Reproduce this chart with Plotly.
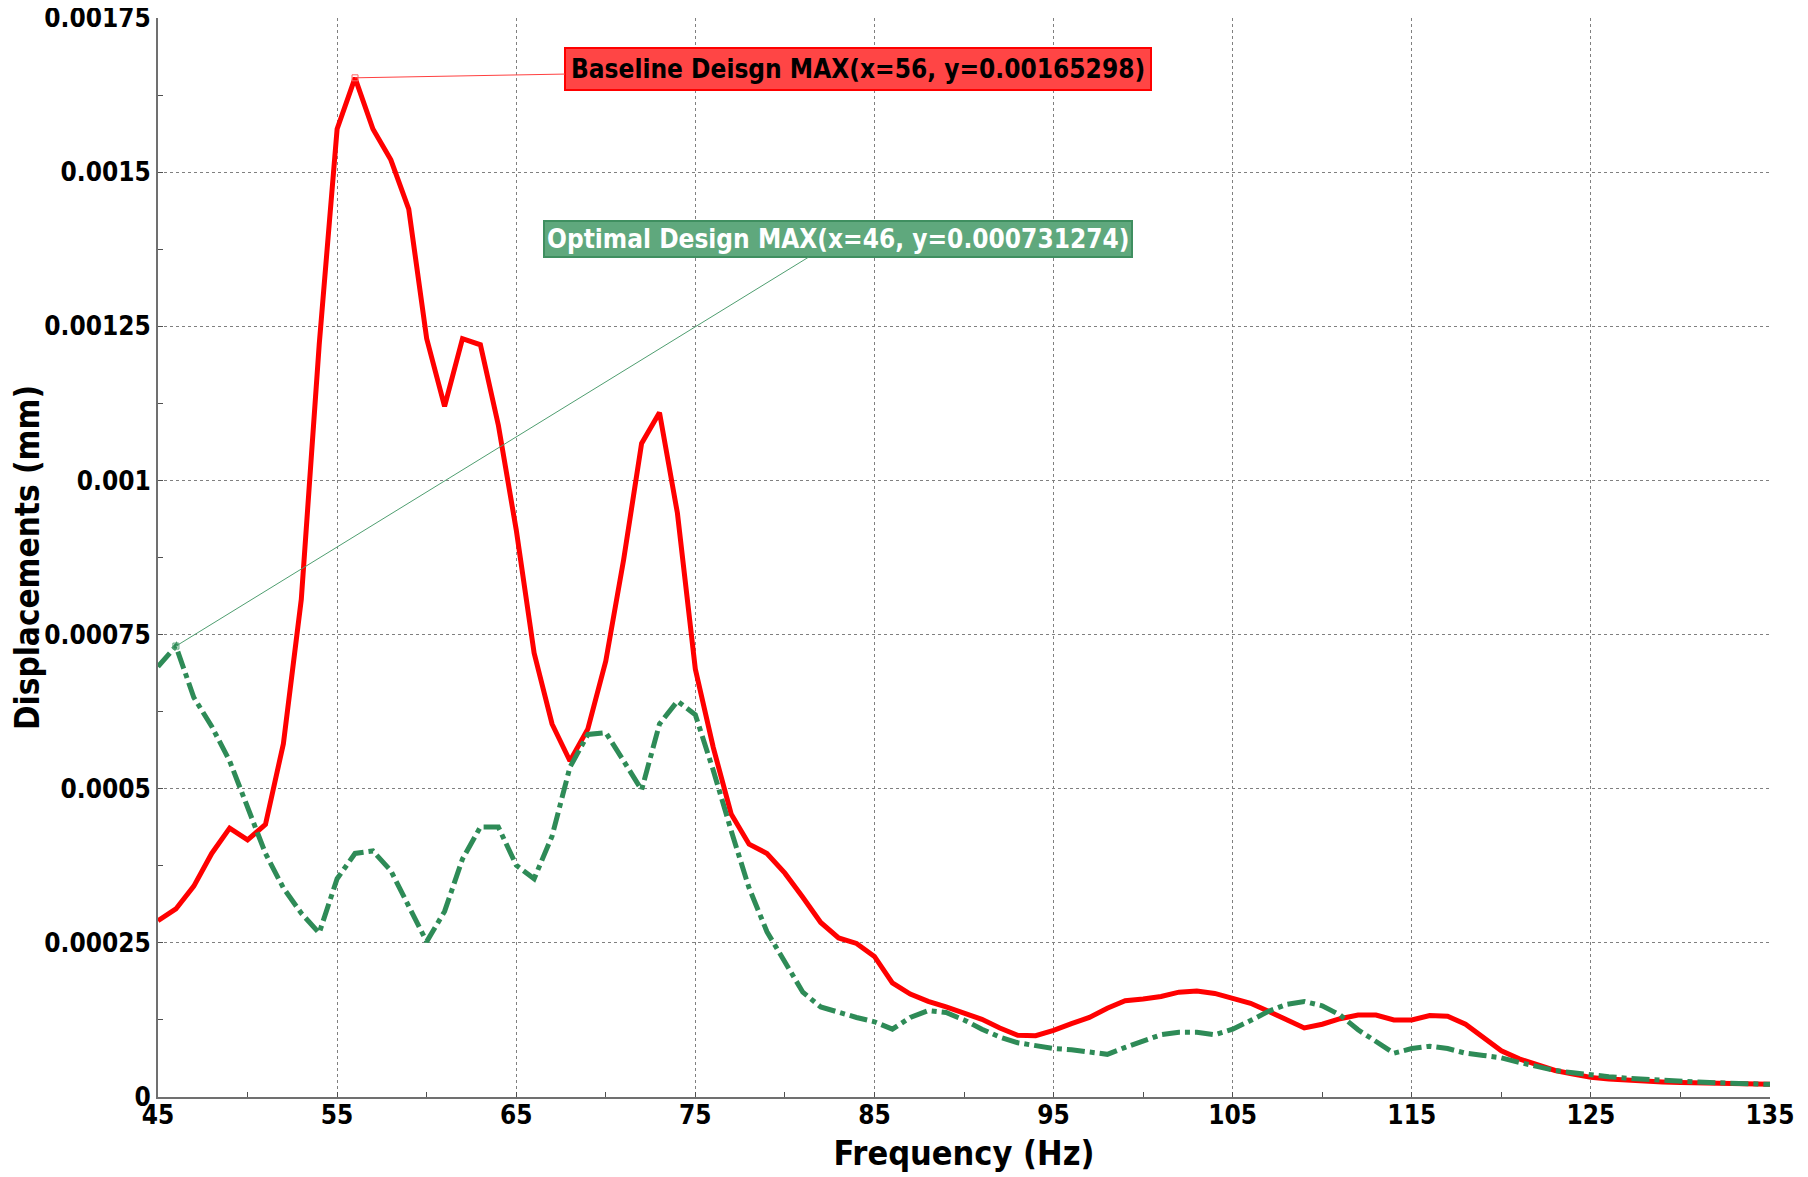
import plotly.graph_objects as go

# ---------------- data ----------------
freq = [45, 46, 47, 48, 49, 50, 51, 52, 53, 54, 55, 56, 57, 58, 59, 60, 61, 62, 63, 64,
        65, 66, 67, 68, 69, 70, 71, 72, 73, 74, 75, 76, 77, 78, 79, 80, 81, 82, 83, 84,
        85, 86, 87, 88, 89, 90, 91, 92, 93, 94, 95, 96, 97, 98, 99, 100, 101, 102, 103, 104,
        105, 106, 107, 108, 109, 110, 111, 112, 113, 114, 115, 116, 117, 118, 119, 120, 121, 122, 123, 124,
        125, 126, 127, 128, 129, 130, 131, 132, 133, 134, 135]

baseline = [0.000286, 0.000305, 0.000342, 0.000395, 0.000436, 0.000417, 0.000442, 0.000573, 0.000807, 0.00122,
            0.00157, 0.00165298, 0.00157, 0.00152, 0.00144, 0.00123, 0.00112, 0.00123, 0.00122, 0.00109,
            0.00092, 0.00072, 0.000605, 0.000545, 0.000597, 0.000707, 0.000872, 0.00106, 0.00111, 0.000947,
            0.000694, 0.000567, 0.000459, 0.00041, 0.000395, 0.000363, 0.000324, 0.000283, 0.000258, 0.000249,
            0.000228, 0.000185, 0.000167, 0.000155, 0.000146, 0.000137, 0.000126, 0.000112, 0.0001, 0.0000995,
            0.000108, 0.000119, 0.000129, 0.000144, 0.000156, 0.000159, 0.000163, 0.00017, 0.000172, 0.000168,
            0.000161, 0.000152, 0.000139, 0.000125, 0.000112, 0.000118, 0.000127, 0.000133, 0.000133, 0.000125,
            0.000125, 0.000132, 0.000131, 0.000118, 0.0000973, 0.0000749, 0.0000618, 0.0000524, 0.000043, 0.0000374,
            0.0000318, 0.000029, 0.000027, 0.0000255, 0.0000245, 0.0000235, 0.0000228, 0.0000222, 0.0000216, 0.000021,
            0.0000205]

optimal = [0.000698, 0.000731274, 0.000648, 0.000601, 0.000545, 0.00047, 0.000395, 0.000339, 0.000298, 0.000266,
           0.000354, 0.000395, 0.000399, 0.000367, 0.000311, 0.000252, 0.000301, 0.000386, 0.000438, 0.000438,
           0.000376, 0.000354, 0.000423, 0.000535, 0.000588, 0.000591, 0.000545, 0.000498, 0.000605, 0.000642,
           0.00062, 0.00053, 0.000432, 0.000339, 0.000268, 0.000217, 0.00017, 0.000146, 0.000137, 0.000129,
           0.000122, 0.00011, 0.000129, 0.00014, 0.000137, 0.000125, 0.00011, 0.0000973, 0.000088, 0.0000824,
           0.0000786, 0.0000767, 0.000073, 0.0000692, 0.0000805, 0.0000917, 0.000101, 0.000105, 0.000105, 0.000101,
           0.00011, 0.000124, 0.000139, 0.00015, 0.000155, 0.000148, 0.000133, 0.000109, 0.0000898, 0.0000711,
           0.0000786, 0.0000824, 0.0000786, 0.0000711, 0.0000674, 0.0000636, 0.0000561, 0.0000487, 0.000043, 0.0000393,
           0.0000356, 0.000033, 0.0000305, 0.0000285, 0.0000268, 0.0000255, 0.0000243, 0.0000232, 0.0000222, 0.0000213,
           0.0000205]

x_ticks = [45, 55, 65, 75, 85, 95, 105, 115, 125, 135]
y_ticks = [0, 0.00025, 0.0005, 0.00075, 0.001, 0.00125, 0.0015, 0.00175]
y_tick_labels = ["0", "0.00025", "0.0005", "0.00075", "0.001", "0.00125", "0.0015", "0.00175"]

# ---------------- styling ----------------
FONT = "DejaVu Sans Condensed, DejaVu Sans, sans-serif"
RED = "#ff0000"
GREEN = "#2e8b57"

fig = go.Figure()
fig.add_trace(go.Scatter(x=freq, y=baseline, mode="lines", name="Baseline Design",
                         line=dict(color=RED, width=5), cliponaxis=False))
fig.add_trace(go.Scatter(x=freq, y=optimal, mode="lines", name="Optimal Design",
                         line=dict(color=GREEN, width=5, dash="18px,5px,5px,5px")))

# max markers
ib = max(range(len(baseline)), key=lambda i: baseline[i])
io = max(range(len(optimal)), key=lambda i: optimal[i])
fig.add_trace(go.Scatter(x=[freq[ib]], y=[baseline[ib]], mode="markers", showlegend=False,
                         marker=dict(symbol="square-open", size=6, color="#ff6666", line=dict(width=1))))
fig.add_trace(go.Scatter(x=[freq[io]], y=[optimal[io]], mode="markers", showlegend=False,
                         marker=dict(symbol="square-open", size=6, color="#5aa57a", line=dict(width=1))))

fig.add_annotation(x=freq[ib], y=baseline[ib], ax=503, ay=-9,
                   text=f"Baseline Deisgn MAX(x={freq[ib]}, y={baseline[ib]:g})",
                   showarrow=True, arrowhead=0, arrowwidth=1, arrowcolor="#ff4040",
                   font=dict(family=FONT, size=26, color="black", weight="bold"),
                   bgcolor="#ff4545", bordercolor="#ff0000", borderwidth=2, borderpad=5)
fig.add_annotation(x=freq[io], y=optimal[io], ax=662, ay=-407,
                   text=f"Optimal Design MAX(x={freq[io]}, y={optimal[io]:g})",
                   showarrow=True, arrowhead=0, arrowwidth=1, arrowcolor="#4f9e70",
                   font=dict(family=FONT, size=26, color="white", weight="bold"),
                   bgcolor="#5fa87d", bordercolor="#3f8f60", borderwidth=2, borderpad=2)

axis_common = dict(
    showline=True, linecolor="#707070", linewidth=2, mirror=False,
    showgrid=True, gridcolor="#808080", gridwidth=1, griddash="dot",
    ticks="inside", ticklen=5, tickcolor="#505050", tickwidth=1,
    tickfont=dict(family=FONT, size=26, color="black", weight="bold"),
    ticklabeloverflow="allow",
    zeroline=False, automargin=False,
)

fig.update_xaxes(range=[45, 135], tickvals=x_ticks, ticktext=[str(v) for v in x_ticks],
                 ticklabelstandoff=-6,
                 minor=dict(dtick=5, tick0=45, ticks="inside", ticklen=5, tickcolor="#505050", showgrid=False),
                 title=dict(text="Frequency (Hz)", font=dict(family=FONT, size=34, color="black", weight="bold"),
                            standoff=12),
                 **axis_common)
fig.update_yaxes(range=[0, 0.00175], tickvals=y_ticks, ticktext=y_tick_labels,
                 minor=dict(dtick=0.000125, tick0=0, ticks="inside", ticklen=5, tickcolor="#505050", showgrid=False),
                 title=dict(text="Displacements (mm)", font=dict(family=FONT, size=33, color="black", weight="bold"),
                            standoff=2),
                 **axis_common)

fig.update_layout(
    width=1808, height=1177,
    margin=dict(l=150, r=46, t=10, b=88),
    paper_bgcolor="white", plot_bgcolor="white",
    showlegend=False,
)

fig.write_html("out.html")
